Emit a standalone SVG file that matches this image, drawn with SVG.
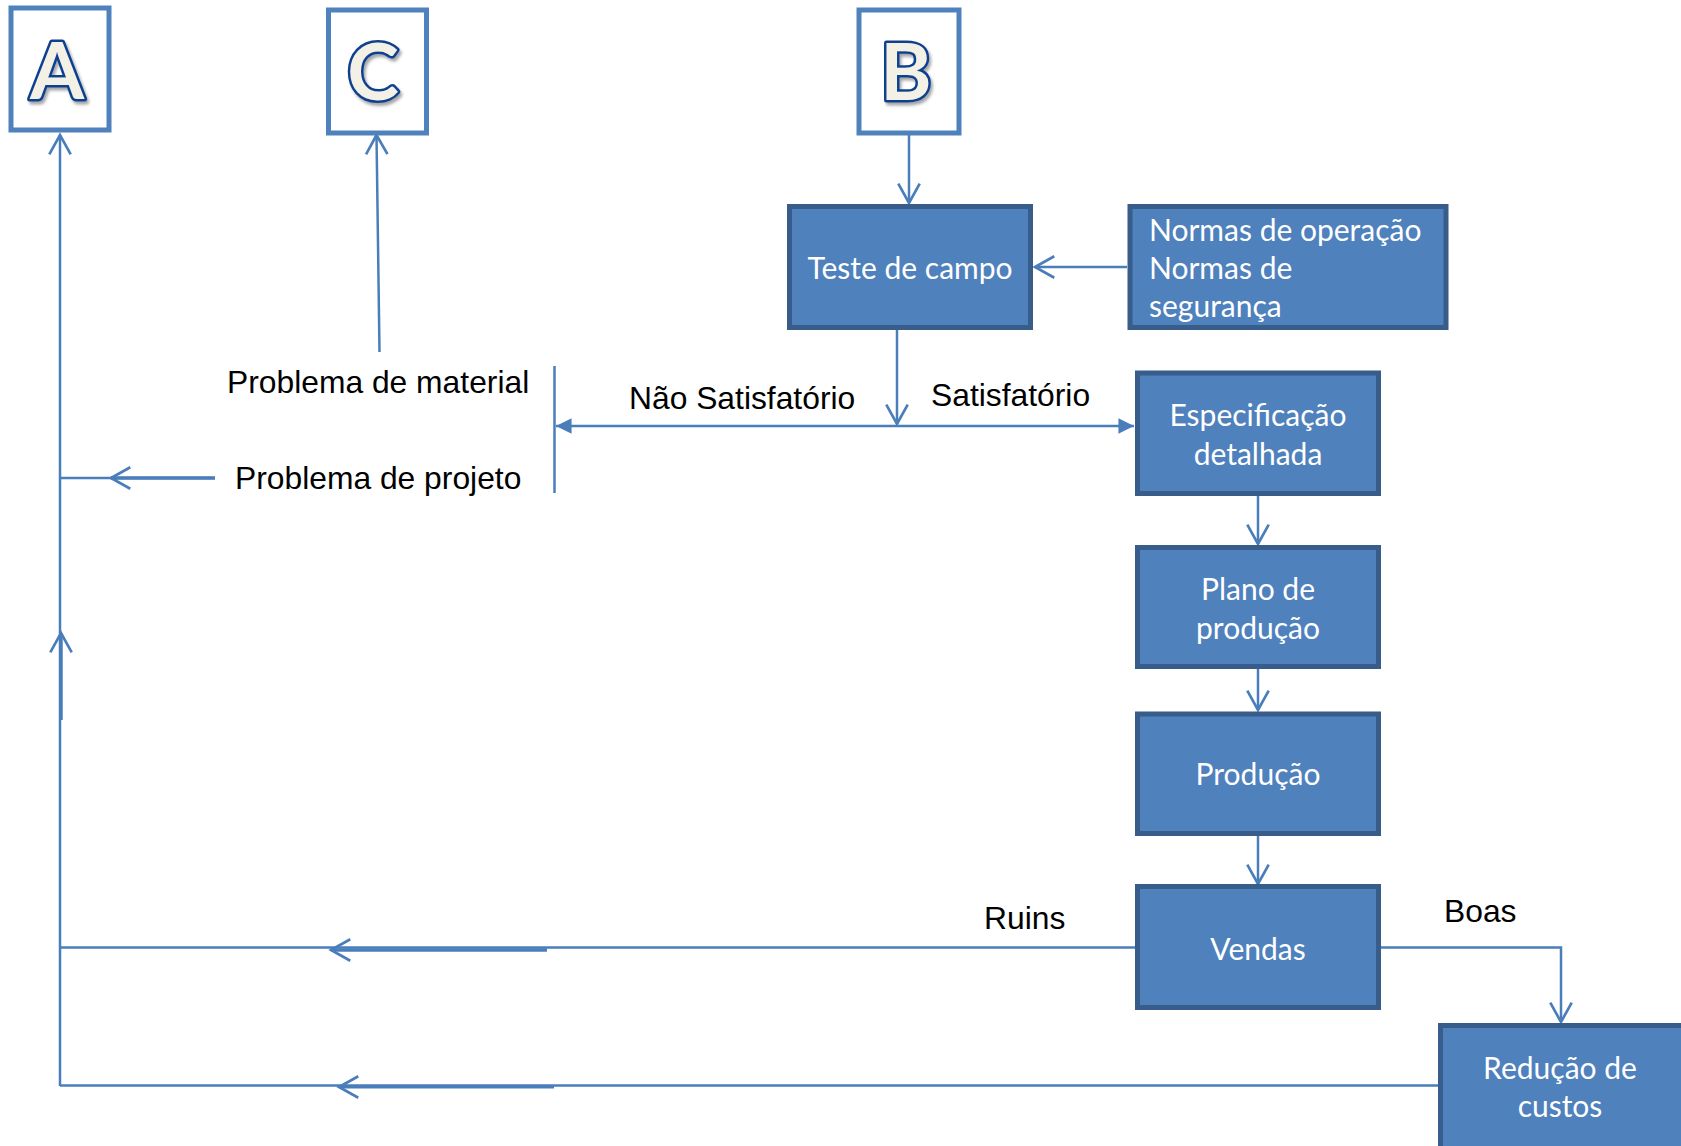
<svg xmlns="http://www.w3.org/2000/svg" width="1681" height="1146" viewBox="0 0 1681 1146">
<style>
.lbox{fill:#FFFFFF;stroke:#4F81BD;stroke-width:5}
.box{fill:#4F81BD;stroke:#385D8A;stroke-width:5}
.letter{font-family:Lato,"Open Sans",sans-serif;font-weight:700;font-size:78px;fill:#F3F0E6;stroke:#10408E;stroke-width:5;paint-order:stroke;stroke-linejoin:round;text-anchor:middle;filter:url(#sh)}
.bt{font-family:Lato,"Open Sans",sans-serif;font-size:30px;fill:#FFFFFF;text-anchor:middle}
.bl{font-family:Lato,"Open Sans",sans-serif;font-size:30px;fill:#FFFFFF}
.lab{font-family:"Liberation Sans",Arial,sans-serif;font-size:31.8px;fill:#000000}
.c{fill:none;stroke:#4A7EBB;stroke-width:2.5}
.ct{fill:none;stroke:#4A7EBB;stroke-width:3.5}
</style>
<defs>
<filter id="sh" x="-20%" y="-20%" width="150%" height="150%">
<feDropShadow dx="2" dy="3" stdDeviation="1.5" flood-color="#000000" flood-opacity="0.35"/>
</filter>
<marker id="v" markerUnits="userSpaceOnUse" markerWidth="30" markerHeight="30" viewBox="-22 -14 26 28" refX="0" refY="0" orient="auto">
<path d="M -18 -10 L 0 0 L -18 10" fill="none" stroke="#4A7EBB" stroke-width="2.5"/>
</marker>
<marker id="tri" markerUnits="userSpaceOnUse" markerWidth="20" markerHeight="20" viewBox="-16 -9 18 18" refX="0" refY="0" orient="auto">
<path d="M -14 -7 L 0 0 L -14 7 Z" fill="#4A7EBB"/>
</marker>
</defs>

<g id="connectors">
<path class="c" d="M 909 133 L 909 203" marker-end="url(#v)"/>
<path class="c" d="M 1127 267 L 1035 267" marker-end="url(#v)"/>
<path class="c" d="M 897 330 L 897 424" marker-end="url(#v)"/>
<path class="c" d="M 897 426 L 1134 426" marker-end="url(#tri)"/>
<path class="c" d="M 897 426 L 556 426" marker-end="url(#tri)"/>
<path class="c" d="M 554.5 366 L 554.5 493"/>
<path class="c" d="M 379.5 352 L 376.5 135" marker-end="url(#v)"/>
<path class="c" d="M 60 1086 L 60 135" marker-end="url(#v)"/>
<path class="c" d="M 60 478 L 215 478"/>
<path class="ct" d="M 215 478 L 111 478" marker-end="url(#v)"/>
<path class="ct" d="M 61 720 L 61 633" marker-end="url(#v)"/>
<path class="c" d="M 1135 947.5 L 60 947.5"/>
<path class="ct" d="M 547 950 L 331 950" marker-end="url(#v)"/>
<path class="c" d="M 1438 1085.5 L 60 1085.5"/>
<path class="ct" d="M 554 1087 L 339 1087" marker-end="url(#v)" style="stroke-width:3"/>
<path class="c" d="M 1381 947.5 L 1561 947.5 L 1561 1022" marker-end="url(#v)"/>
<path class="c" d="M 1258 496 L 1258 544" marker-end="url(#v)"/>
<path class="c" d="M 1258 669 L 1258 710" marker-end="url(#v)"/>
<path class="c" d="M 1258 836 L 1258 884" marker-end="url(#v)"/>
</g>

<g id="nodeA">
<rect class="lbox" x="11" y="8" width="98" height="122"/>
<text class="letter" x="57" y="99">A</text>
</g>
<g id="nodeC">
<rect class="lbox" x="328.5" y="10" width="98" height="123"/>
<text class="letter" x="373" y="100">C</text>
</g>
<g id="nodeB">
<rect class="lbox" x="859" y="10" width="100" height="123"/>
<text class="letter" x="906" y="100">B</text>
</g>

<g id="teste">
<rect class="box" x="789.5" y="206.5" width="241" height="121"/>
<text class="bt" x="910" y="279">Teste de campo</text>
</g>
<g id="normas">
<rect class="box" x="1130" y="206.5" width="316" height="121"/>
<text class="bl" x="1149" y="241">Normas de operação</text>
<text class="bl" x="1149" y="279">Normas de</text>
<text class="bl" x="1149" y="317">segurança</text>
</g>
<g id="especificacao">
<rect class="box" x="1137.5" y="373" width="241" height="120.5"/>
<text class="bt" x="1258" y="426">Especificação</text>
<text class="bt" x="1258" y="465">detalhada</text>
</g>
<g id="plano">
<rect class="box" x="1137.5" y="547.5" width="241" height="119"/>
<text class="bt" x="1258" y="600">Plano de</text>
<text class="bt" x="1258" y="639">produção</text>
</g>
<g id="producao">
<rect class="box" x="1137.5" y="714" width="241" height="119.5"/>
<text class="bt" x="1258" y="785">Produção</text>
</g>
<g id="vendas">
<rect class="box" x="1137.5" y="886.5" width="241" height="121"/>
<text class="bt" x="1258" y="960">Vendas</text>
</g>
<g id="reducao">
<rect class="box" x="1440.5" y="1025.5" width="245" height="130"/>
<text class="bt" x="1560" y="1079">Redução de</text>
<text class="bt" x="1560" y="1117">custos</text>
</g>

<g id="labels">
<text class="lab" x="227" y="393">Problema de material</text>
<text class="lab" x="235" y="489">Problema de projeto</text>
<text class="lab" x="629" y="409">Não Satisfatório</text>
<text class="lab" x="931" y="406">Satisfatório</text>
<text class="lab" x="984" y="929">Ruins</text>
<text class="lab" x="1444" y="922">Boas</text>
</g>
</svg>
